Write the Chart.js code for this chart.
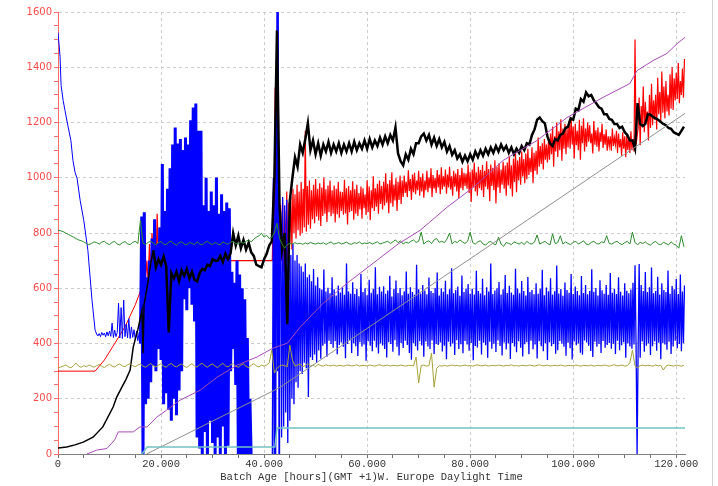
<!DOCTYPE html>
<html>
<head>
<meta charset="utf-8">
<script src="https://cdn.jsdelivr.net/npm/chart.js@4"></script>
<style>
  html, body { margin: 0; padding: 0; background: #ffffff; }
  #wrap { width: 718px; height: 486px; }
</style>
</head>
<body>
<div id="wrap"><canvas id="myChart" width="718" height="486"></canvas></div>
<script>
// batch age in hours on x, values on y

// blue: smooth fall at start, then noisy
var blueHeadHours = [0, 0.4, 0.6, 1, 1.35, 1.9, 2.5, 2.9, 3.3, 3.7, 4.3, 5, 5.8, 6.6, 7.2, 7.6];
var blueHeadValues = [1526, 1439, 1334, 1280, 1244, 1190, 1135, 1063, 1020, 998, 918, 846, 737, 557, 448, 430];
// 7.75h .. 16h, every 0.25h
var blueCalm = [428, 436, 425, 440, 430, 438, 424, 442, 428, 445, 426, 474, 422, 448, 425, 440, 546,
  420, 530, 418, 557, 425, 470, 420, 490, 418, 460, 422, 450, 415, 445, 410, 440, 400];
// 16.25h .. 37.5h, every 0.25h
var blueWild = [860, 0, 875, 180, 640, 200, 700, 260,
  780, 320, 850, 300, 760, 380, 820, 340,
  1050, 180, 880, 220, 960, 160,
  1034, 120, 1120, 200, 1182, 140, 1124, 230,
  1140, 300, 1100, 560, 1146, 520, 1120, 600, 1208, 540, 1254, 480,
  1269, 60, 1170, 20,
  1170, 0, 900, 80, 1000, 0, 880, 120, 950, 40, 900, 0, 1001, 60, 870, 0, 940, 100, 880, 0, 910, 30, 890,
  300, 660, 380, 620, 250, 700, 0, 650, 0, 600, 0, 560, 0, 420, 0, 200, -20];
var blueSpikeHours = [38, 41.5, 41.6, 41.8, 41.95, 42.1, 42.25, 42.5, 42.6, 42.75, 42.9, 43.0];
var blueSpikeValues = [-20, -20, -20, 1000, 0, 1050, 0, 1620, 300, 1620, 0, 700];
// 43.2h .. 121.6h, every 0.2h
var blueBand = [
  880, 60, 930, 100, 900, 150, 920, 40, 860, 120, 720, 200, 760, 180, 700, 260, 720, 240, 690, 300,
  680, 290, 660, 330, 690, 310, 640, 206, 650, 350, 625, 340, 670, 360, 610, 330, 640, 375, 600, 345,
  595, 392, 668, 400, 588, 352, 602, 410, 582, 398, 640, 385, 596, 408, 574, 361, 610, 395, 585, 404,
  603, 388, 576, 347, 690, 398, 588, 412, 580, 366, 622, 401, 579, 390, 598, 355, 571, 405, 652, 389,
  586, 396, 600, 338, 575, 408, 631, 392, 584, 372, 597, 410, 676, 386, 578, 364, 605, 400, 588, 393,
  607, 380, 580, 349, 592, 405, 645, 398, 570, 370, 598, 412, 628, 388, 583, 357, 601, 402, 575, 384,
  589, 410, 661, 395, 580, 366, 604, 341, 586, 402, 576, 390, 685, 375, 596, 408, 581, 393, 612, 352,
  592, 407, 578, 389, 639, 380, 590, 411, 583, 362, 601, 398, 657, 395, 574, 404, 600, 371, 587, 392,
  627, 343, 578, 406, 596, 389, 672, 400, 582, 358, 594, 412, 606, 380, 573, 397, 646, 365, 586, 409,
  599, 396, 615, 374, 580, 402, 598, 339, 577, 391, 663, 386, 590, 410, 581, 360, 634, 403, 575, 394,
  604, 348, 588, 406, 690, 381, 579, 399, 592, 369, 600, 411, 623, 391, 577, 357, 596, 404, 648, 378,
  583, 400, 609, 344, 585, 402, 576, 389, 671, 368, 599, 408, 582, 385, 626, 353, 590, 397, 574, 405,
  641, 361, 586, 410, 594, 379, 578, 396, 618, 346, 580, 408, 598, 390, 667, 372, 575, 401, 603, 340,
  589, 405, 636, 390, 577, 398, 589, 363, 682, 376, 581, 409, 597, 399, 573, 388, 621, 356, 594, 403,
  584, 383, 652, 342, 579, 407, 606, 394, 590, 400, 575, 367, 644, 359, 583, 411, 612, 404, 578, 392,
  590, 373, 669, 351, 587, 406, 601, 388, 574, 398, 629, 366, 593, 409, 580, 385, 612, 395, 576, 402,
  655, 381, 584, 399, 598, 362, 579, 410, 640, 376, 587, 394, 574, 405, 618, 348, 591, 400, 582, 389,
  595, 381, 620, 396, 683, 400, 0, 380, 688, 348, 612, 407, 590, 370, 659, 392, 586, 401, 604, 358,
  675, 390, 582, 408, 590, 374, 642, 403, 577, 343, 618, 401, 594, 396, 586, 377, 664, 406, 580, 362,
  608, 389, 596, 410, 633, 383, 579, 398, 650, 372, 588, 401, 610];

// red
var redHeadHours = [0, 7.2, 9, 11, 13, 15, 16, 17];
var redHeadValues = [300, 300, 340, 400, 460, 540, 590, 640];
// 17.25h .. 23h, every 0.25h
var redEarly = [700, 620, 760, 650, 800, 680, 840, 660, 870, 700, 820, 690,
  880, 720, 850, 700, 860, 740, 830, 710, 800, 720, 760, 700];
var redMidHours = [23.2, 41.6, 41.7, 41.85, 42.0, 42.15, 42.3, 42.45, 42.6, 42.75, 42.9, 43.05];
var redMidValues = [700, 700, 700, 1000, 650, 1327, 700, 1250, 650, 960, 640, 900];
// 43.2h .. 121.6h, every 0.2h
var redBand = [
  900, 700, 920, 660, 880, 720, 950, 700, 910, 760, 930, 740, 960, 800, 940, 780, 975, 810, 950, 790,
  985, 800, 960, 820, 1170, 805, 970, 830, 990, 815, 955, 850, 975, 835, 995, 860, 960, 845, 980, 825,
  965, 862, 1001, 870, 958, 840, 972, 875, 990, 861, 955, 870, 972, 838, 960, 868, 985, 855, 950, 880,
  948, 866, 993, 871, 962, 831, 970, 875, 955, 880, 987, 848, 958, 870, 975, 862, 945, 885, 968, 852,
  962, 890, 940, 865, 991, 876, 968, 846, 955, 890, 1005, 880, 962, 895, 978, 870, 990, 905, 970, 885,
  985, 900, 1016, 910, 978, 872, 992, 908, 1020, 895, 975, 918, 998, 880, 985, 920, 1008, 905, 990, 930,
  1008, 945, 985, 930, 1027, 952, 995, 920, 1012, 948, 1018, 940, 990, 955, 1025, 935, 1002, 950, 1015, 928,
  990, 955, 1025, 948, 1002, 962, 1034, 930, 1010, 960, 1000, 945, 1028, 965, 1012, 940, 1038, 958, 1005, 968,
  1030, 942, 1012, 965, 1040, 958, 1005, 935, 1025, 968, 1015, 950, 1032, 925, 1010, 962, 1036, 955, 1018, 970,
  1015, 960, 1048, 945, 1022, 912, 1030, 965, 1055, 950, 1020, 935, 1040, 962, 1028, 955, 1046, 930, 1025, 968,
  1060, 958, 1032, 915, 1048, 970, 1036, 955, 1063, 907, 1040, 965, 1052, 945, 1030, 975, 1058, 960, 1044, 935,
  1055, 972, 1080, 960, 1045, 932, 1070, 985, 1090, 948, 1062, 990, 1075, 975, 1095, 1005, 1068, 980, 1088, 995,
  1105, 1010, 1072, 1020, 1110, 980, 1090, 1025, 1098, 1012, 1146, 1040, 1115, 1050, 1125, 1030, 1140, 1065, 1120, 1055,
  1135, 1065, 1160, 1085, 1185, 1040, 1150, 1095, 1200, 1075, 1168, 1100, 1212, 1062, 1178, 1105, 1195, 1085, 1180, 1110,
  1205, 1105, 1218, 1120, 1185, 1070, 1195, 1118, 1170, 1100, 1210, 1065, 1188, 1125, 1215, 1095, 1178, 1112, 1200, 1130,
  1190, 1125, 1160, 1088, 1205, 1120, 1172, 1112, 1182, 1095, 1165, 1130, 1195, 1108, 1158, 1120, 1175, 1098, 1150, 1115,
  1150, 1098, 1178, 1115, 1145, 1120, 1170, 1090, 1160, 1110, 1140, 1080, 1165, 1105, 1150, 1074, 1155, 1100, 1145, 1090,
  1168, 1100, 1140, 1095, 1500, 1120, 1150, 1180, 1290, 1118, 1260, 1190, 1330, 1165, 1275, 1200, 1240, 1135, 1300, 1180,
  1340, 1190, 1280, 1210, 1300, 1175, 1362, 1230, 1310, 1205, 1385, 1235, 1330, 1215, 1350, 1240, 1300, 1225, 1375, 1250,
  1400, 1245, 1360, 1280, 1380, 1285, 1415, 1270, 1350, 1300, 1395, 1290, 1430];

// black
var blackHeadHours = [0, 1.7, 3.3, 4.9, 6.8, 8.7, 10.7, 11.4, 12.4, 13.2, 14.0, 14.6, 15.5, 16.3, 16.5, 16.7, 17.3, 18.0, 18.5];
var blackHeadValues = [22, 25, 33, 43, 61, 98, 170, 206, 242, 270, 304, 387, 450, 520, 365, 540, 604, 690, 737];
// 19h .. 121.5h, every 0.5h
var blackBody = [
  676, 705, 685, 715, 680, 440, 655, 635, 660, 625,
  665, 645, 670, 635, 660, 630, 625, 655, 670, 665,
  685, 680, 705, 700, 700, 717, 695, 725, 705, 727,
  799, 755, 790, 745, 775, 740, 765, 730, 717, 685,
  680, 676, 705, 725, 755, 770, 1000, 1533, 900, 740,
  800, 470, 918, 1000, 1074, 1040, 1120, 1090, 1140, 1197,
  1100, 1135, 1085, 1125, 1080, 1120, 1095, 1130, 1090, 1120,
  1095, 1125, 1090, 1120, 1095, 1125, 1095, 1130, 1100, 1125,
  1105, 1135, 1105, 1140, 1110, 1135, 1115, 1145, 1120, 1150,
  1125, 1155, 1135, 1182, 1088, 1060, 1045, 1085, 1065, 1105,
  1085, 1125, 1125, 1150, 1160, 1135, 1155, 1120, 1145, 1115,
  1140, 1110, 1130, 1095, 1115, 1083, 1100, 1070, 1085, 1058,
  1080, 1060, 1085, 1065, 1095, 1075, 1100, 1080, 1105, 1085,
  1110, 1090, 1115, 1095, 1120, 1100, 1115, 1090, 1110, 1085,
  1105, 1090, 1115, 1100, 1125, 1120, 1155, 1175, 1210, 1218,
  1205, 1197, 1150, 1124, 1115, 1140, 1135, 1155, 1160, 1180,
  1185, 1215, 1210, 1250, 1245, 1285, 1275, 1309, 1295, 1300,
  1280, 1269, 1255, 1250, 1230, 1230, 1213, 1210, 1195, 1195,
  1180, 1185, 1165, 1155, 1135, 1135, 1105, 1270, 1195, 1187,
  1195, 1230, 1228, 1220, 1215, 1210, 1202, 1195, 1190, 1180,
  1177, 1165, 1160, 1155, 1170, 1185];

// green, 0h .. 121.5h every 0.5h
var greenValues = [
  810, 808, 805, 800, 795, 790, 785, 780, 775, 772,
  768, 762, 758, 762, 768, 765, 760, 767, 770, 762,
  758, 766, 770, 760, 757, 765, 769, 761, 758, 766,
  770, 762, 846, 763, 758, 766, 770, 763, 757, 765,
  769, 760, 758, 767, 770, 761, 756, 765, 768, 760,
  757, 766, 762, 758, 768, 760, 757, 765, 770, 762,
  758, 766, 760, 757, 768, 763, 759, 767, 770, 762,
  760, 768, 763, 770, 775, 768, 778, 785, 790, 799,
  785, 792, 780, 785, 800, 835, 780, 760, 745, 758,
  762, 760, 765, 761, 763, 759, 764, 760, 766, 762,
  760, 764, 761, 765, 759, 763, 768, 760, 762, 766,
  760, 763, 767, 761, 759, 765, 762, 768, 760, 764,
  761, 766, 760, 764, 768, 760, 763, 767, 770, 762,
  768, 775, 765, 772, 760, 767, 763, 770, 775, 766,
  770, 803, 760, 768, 772, 762, 775, 780, 766, 770,
  765, 778, 800, 760, 770, 765, 775, 768, 762, 770,
  803, 765, 760, 768, 772, 760, 756, 766, 770, 760,
  758, 785, 760, 752, 766, 762, 758, 768, 764, 760,
  766, 758, 770, 762, 760, 768, 793, 760, 765, 770,
  762, 757, 797, 762, 765, 790, 760, 768, 762, 758,
  766, 770, 760, 765, 772, 760, 758, 766, 770, 762,
  760, 768, 765, 790, 762, 760, 766, 770, 762, 758,
  765, 770, 760, 803, 765, 758, 766, 762, 768, 760,
  756, 765, 770, 760, 758, 766, 762, 757, 768, 760,
  756, 745, 790, 750];

// olive, 0h .. 121.5h every 0.5h
var oliveValues = [
  311, 315, 318, 322, 316, 312, 320, 329, 318, 314,
  320, 316, 322, 318, 314, 320, 324, 317, 313, 320,
  325, 318, 315, 322, 326, 319, 316, 323, 327, 320,
  316, 322, 326, 318, 314, 321, 328, 319, 315, 322,
  327, 318, 314, 323, 328, 319, 315, 322, 326, 318,
  313, 321, 327, 318, 315, 324, 328, 320, 314, 322,
  326, 318, 313, 322, 328, 319, 315, 323, 327, 318,
  314, 322, 326, 317, 313, 321, 327, 319, 315, 322,
  318, 322, 330, 376, 293, 310, 318, 322, 320, 316,
  394, 340, 318, 322, 326, 316, 320, 328, 318, 322,
  316, 325, 320, 318, 323, 320, 319, 322, 318, 321,
  320, 318, 322, 321, 319, 320, 323, 318, 321, 320,
  319, 322, 320, 318, 321, 323, 319, 320, 322, 318,
  321, 320, 319, 322, 320, 318, 321, 320, 319, 351,
  257, 320, 322, 318, 320, 365, 242, 310, 320, 318,
  321, 318, 320, 322, 319, 321, 318, 320, 322, 319,
  320, 318, 321, 323, 319, 320, 322, 318, 320, 321,
  319, 322, 320, 318, 321, 320, 323, 319, 320, 318,
  321, 320, 319, 322, 320, 318, 321, 323, 319, 320,
  322, 318, 320, 321, 319, 322, 320, 318, 321, 320,
  319, 322, 320, 318, 321, 320, 319, 322, 318, 320,
  321, 319, 322, 320, 318, 321, 323, 319, 320, 322,
  318, 320, 330, 376, 318, 312, 320, 322, 319, 321,
  320, 318, 322, 319, 321, 304, 318, 322, 320, 318,
  322, 320, 318, 321];

// purple
var purpleHours = [5.6, 7.5, 9.5, 11.0, 11.7, 14.6, 15.9, 17.3, 19.2, 21.1, 23.7, 27.6, 30.9, 34.8, 38.6, 41.7, 44.5,
  47, 51.5, 56.1, 61.9, 66, 70.3, 75.5, 80.6, 86.4, 93, 98.8, 105.8, 111, 112.4, 115.5, 118.2, 120.2, 121.7];
var purpleValues = [0, 14, 20, 51, 80, 80, 98, 98, 134, 159, 195, 231, 278, 322, 351, 383, 401,
  459, 546, 618, 701, 760, 810, 893, 965, 1063, 1135, 1218, 1291, 1341, 1388, 1424, 1450, 1486, 1508];

// grey
var greyHours = [17.2, 43, 121.7];
var greyValues = [0, 240, 1233];

// teal
var tealHours = [16.3, 17.3, 42.1, 42.5, 121.7];
var tealValues = [0, 25, 25, 94, 94];

var xTitle = 'Batch Age [hours](GMT +1)W. Europe Daylight Time';

function pairs(xs, ys) {
  return xs.map(function (x, i) { return { x: x, y: ys[i] }; });
}
function evenly(start, step, vals) {
  return vals.map(function (v, i) { return { x: start + i * step, y: v }; });
}

var blueSmooth = pairs(blueHeadHours, blueHeadValues).concat(evenly(7.75, 0.25, blueCalm));
var blueWildData = [{ x: 16, y: 400 }].concat(evenly(16.25, 0.25, blueWild));
var blueNoisy = [{ x: 37.5, y: -20 }].concat(pairs(blueSpikeHours, blueSpikeValues), evenly(43.2, 0.2, blueBand));
var redSmooth = pairs(redHeadHours, redHeadValues);
var redNoisy = [{ x: 17, y: 640 }].concat(evenly(17.25, 0.25, redEarly),
  pairs(redMidHours, redMidValues), evenly(43.2, 0.2, redBand));
var blackSmooth = pairs(blackHeadHours, blackHeadValues);
var blackNoisy = [{ x: 18.5, y: 737 }].concat(evenly(19, 0.5, blackBody));

function line(data, color, width) {
  return { data: data, borderColor: color, borderWidth: width, pointRadius: 0, tension: 0, fill: false };
}

// frame line on the right of the picture
var framePlugin = {
  id: 'frame',
  afterDraw: function (chart) {
    var c = chart.ctx;
    c.save();
    c.strokeStyle = '#d4d4d4';
    c.lineWidth = 1;
    c.beginPath();
    c.moveTo(712.5, 0);
    c.lineTo(712.5, 486);
    c.stroke();
    c.restore();
  }
};

var ctx = document.getElementById('myChart').getContext('2d');
var myChart = new Chart(ctx, {
  type: 'line',
  data: {
    datasets: [
      line(pairs(tealHours, tealValues), '#72c2c2', 1.5),
      line(pairs(greyHours, greyValues), '#8f8f8f', 1),
      line(pairs(purpleHours, purpleValues), '#a84cb8', 1),
      line(evenly(0, 0.5, oliveValues), '#a6a23a', 1),
      line(evenly(0, 0.5, greenValues), '#2b8c2b', 1),
      line(blackSmooth, '#000000', 1.5),
      line(blackNoisy, '#000000', 2.5),
      line(blueSmooth, '#0000ff', 1),
      line(blueWildData, '#0000ff', 3),
      line(blueNoisy, '#0000ff', 1.3),
      line(redSmooth, '#ff0000', 1),
      line(redNoisy, '#ff0000', 1.2)
    ]
  },
  options: {
    responsive: false,
    animation: false,
    events: [],
    layout: { padding: { top: 12, right: 33, bottom: 0, left: 0 } },
    plugins: { legend: { display: false }, tooltip: { enabled: false } },
    scales: {
      x: {
        type: 'linear',
        min: 0,
        max: 121.7,
        afterFit: function (scale) { scale.height = 32; },
        ticks: {
          stepSize: 5,
          includeBounds: false,
          autoSkip: false,
          maxRotation: 0,
          padding: 0,
          color: '#333333',
          font: { family: 'Liberation Mono', size: 10.5 },
          callback: function (v) {
            if (v % 20 !== 0) return '';
            return v === 0 ? '0' : v.toFixed(3);
          }
        },
        grid: {
          color: function (c) {
            return c.tick && c.tick.value % 20 === 0 && c.tick.value > 0 ? '#cccccc' : 'rgba(0,0,0,0)';
          },
          tickColor: '#707070',
          tickLength: 4
        },
        border: { color: '#808080', dash: [3, 3] },
        title: {
          display: true,
          text: xTitle,
          color: '#333333',
          font: { family: 'Liberation Mono', size: 10.5 },
          padding: { top: 0, bottom: 2 }
        }
      },
      y: {
        min: 0,
        max: 1600,
        afterFit: function (scale) { scale.width = 58; },
        ticks: {
          stepSize: 50,
          autoSkip: false,
          padding: 2,
          color: '#ff4a4a',
          font: { family: 'DejaVu Sans', size: 10 },
          callback: function (v) { return v % 200 === 0 ? String(v) : ''; }
        },
        grid: {
          color: function (c) {
            return c.tick && c.tick.value % 200 === 0 && c.tick.value > 0 ? '#cccccc' : 'rgba(0,0,0,0)';
          },
          tickColor: '#ff6a6a',
          tickLength: 4
        },
        border: { color: '#ff6a6a', dash: [3, 3] }
      }
    }
  },
  plugins: [framePlugin]
});
</script>
</body>
</html>
